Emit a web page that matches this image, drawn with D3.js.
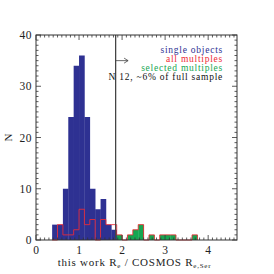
<!DOCTYPE html>
<html>
<head>
<meta charset="utf-8">
<script src="https://cdn.jsdelivr.net/npm/d3@7"></script>
<style>
  body { margin: 0; background: #fff; }
  svg text { font-family: "Liberation Serif", "DejaVu Serif", serif; }
</style>
</head>
<body>
<script>
// histogram data: lower bin edges and counts per bin
var binLo = [0.375, 0.5, 0.625, 0.75, 0.875, 1.0, 1.125, 1.25, 1.375, 1.5, 1.625, 1.75,
             1.875, 2.0, 2.125, 2.25, 2.375, 2.5, 2.625, 2.75, 2.875, 3.0, 3.125, 3.25, 3.375, 3.5, 3.625];
var binWidth = 0.125;
var singleCounts = [3, 3, 10, 24, 34, 36, 24, 10, 6, 8, 3, 2,
                    0, 0, 0, 0, 0, 0, 0, 0, 0, 0, 0, 0, 0, 0, 0];
var allMultCounts = [0, 3, 1, 1, 2, 6, 3, 4, 0, 4, 3, 3,
                     1, 0, 1, 2, 3, 0, 1, 0, 1, 1, 1, 0, 0, 0, 1];
var selMultCounts = [0, 0, 0, 0, 0, 0, 0, 0, 0, 0, 0, 0,
                     1, 0, 1, 2, 3, 0, 1, 0, 1, 1, 1, 0, 0, 0, 1];
var cutValue = 1.85;
var xTicks = [0, 1, 2, 3, 4];
var yTicks = [0, 10, 20, 30, 40];
var legendLabels = ["single objects", "all multiples", "selected multiples", "N 12, ~6% of full sample"];
var legendColors = ["#2e3192", "#ee2a35", "#16a651", "#111"];

(function(){
    var width = 274, height = 274;
    var left = 36, right = 237, top = 35, bottom = 240;

    var svg = d3.select("body").append("svg")
        .attr("width", width)
        .attr("height", height);

    var x = d3.scaleLinear().domain([0, 4.67]).range([left, right]);
    var y = d3.scaleLinear().domain([0, 40]).range([bottom, top]);

    var bins = binLo.map(function(lo, i){
        return {lo: lo, hi: lo + binWidth, single: singleCounts[i], all: allMultCounts[i], sel: selMultCounts[i]};
    });

    //blue filled bars
    svg.selectAll(".single").data(bins.filter(function(d){ return d.single > 0; }))
        .enter().append("rect")
        .attr("x", function(d){ return x(d.lo); })
        .attr("width", function(d){ return x(d.hi) - x(d.lo) + 0.3; })
        .attr("y", function(d){ return y(d.single); })
        .attr("height", function(d){ return y(0) - y(d.single); })
        .attr("fill", legendColors[0]);

    //green filled bars
    svg.selectAll(".sel").data(bins.filter(function(d){ return d.sel > 0; }))
        .enter().append("rect")
        .attr("x", function(d){ return x(d.lo); })
        .attr("width", function(d){ return x(d.hi) - x(d.lo) + 0.3; })
        .attr("y", function(d){ return y(d.sel); })
        .attr("height", function(d){ return y(0) - y(d.sel); })
        .attr("fill", legendColors[2]);

    //red step outline of all multiples
    var pts = [[bins[0].lo, 0]];
    bins.forEach(function(d){ pts.push([d.lo, d.all]); });
    pts.push([bins[bins.length - 1].hi, bins[bins.length - 1].all]);
    pts.push([bins[bins.length - 1].hi, 0]);
    var step = d3.line()
        .x(function(d){ return x(d[0]); })
        .y(function(d){ return y(d[1]); })
        .curve(d3.curveStepAfter);
    svg.append("path")
        .attr("d", step(pts))
        .attr("fill", "none")
        .attr("stroke", legendColors[1])
        .attr("stroke-opacity", 0.85)
        .attr("stroke-width", 1);

    //cut line
    svg.append("line")
        .attr("x1", x(cutValue)).attr("x2", x(cutValue))
        .attr("y1", top).attr("y2", bottom)
        .attr("stroke", "#444").attr("stroke-width", 1.3);

    //arrow
    var ay = y(35);
    svg.append("line")
        .attr("x1", x(cutValue)).attr("x2", x(2.14))
        .attr("y1", ay).attr("y2", ay)
        .attr("stroke", "#444").attr("stroke-width", 0.8);
    svg.append("path")
        .attr("d", "M" + (x(2.14) - 4) + "," + (ay - 2.5) + "L" + x(2.14) + "," + ay + "L" + (x(2.14) - 4) + "," + (ay + 2.5))
        .attr("fill", "none").attr("stroke", "#444").attr("stroke-width", 0.8);

    //frame
    svg.append("rect")
        .attr("x", left).attr("y", top)
        .attr("width", right - left).attr("height", bottom - top)
        .attr("fill", "none").attr("stroke", "#333").attr("stroke-width", 1);

    //ticks, major and minor, on all four sides
    var tickColor = "#333";
    d3.range(0, 47).forEach(function(i){
        var v = i / 10, px = x(v);
        if (px > right) return;
        var len = (i % 10 === 0) ? 5 : 2.5;
        svg.append("line").attr("x1", px).attr("x2", px).attr("y1", bottom).attr("y2", bottom - len)
            .attr("stroke", tickColor).attr("stroke-width", 0.8);
        svg.append("line").attr("x1", px).attr("x2", px).attr("y1", top).attr("y2", top + len)
            .attr("stroke", tickColor).attr("stroke-width", 0.8);
    });
    d3.range(0, 41).forEach(function(i){
        var py = y(i);
        var len = (i % 10 === 0) ? 5 : 2.5;
        svg.append("line").attr("x1", left).attr("x2", left + len).attr("y1", py).attr("y2", py)
            .attr("stroke", tickColor).attr("stroke-width", 0.8);
        svg.append("line").attr("x1", right).attr("x2", right - len).attr("y1", py).attr("y2", py)
            .attr("stroke", tickColor).attr("stroke-width", 0.8);
    });

    //tick labels
    svg.selectAll(".xl").data(xTicks).enter().append("text")
        .attr("x", function(d){ return x(d); })
        .attr("y", bottom + 14)
        .attr("text-anchor", "middle")
        .attr("font-size", 11.5)
        .attr("fill", "#222")
        .text(function(d){ return d; });
    svg.selectAll(".yl").data(yTicks).enter().append("text")
        .attr("x", left - 4)
        .attr("y", function(d){ return y(d) + 4; })
        .attr("text-anchor", "end")
        .attr("font-size", 11.5)
        .attr("letter-spacing", 0.5)
        .attr("fill", "#222")
        .text(function(d){ return d; });

    //axis titles
    var xt = svg.append("text")
        .attr("x", (left + right) / 2 - 2)
        .attr("y", 266)
        .attr("text-anchor", "middle")
        .attr("font-size", 11)
        .attr("letter-spacing", 0.75)
        .attr("fill", "#222");
    xt.append("tspan").text("this work R");
    xt.append("tspan").attr("font-size", 7).attr("dy", 2).text("e");
    xt.append("tspan").attr("dy", -2).text(" / COSMOS R");
    xt.append("tspan").attr("font-size", 7).attr("dy", 2).text("e,Ser");

    svg.append("text")
        .attr("transform", "translate(12," + ((top + bottom) / 2) + ") rotate(-90)")
        .attr("text-anchor", "middle")
        .attr("font-size", 11)
        .attr("fill", "#222")
        .text("N");

    //legend
    svg.selectAll(".leg").data(legendLabels).enter().append("text")
        .attr("x", 223)
        .attr("y", function(d, i){ return 53 + i * 9; })
        .attr("text-anchor", "end")
        .attr("font-size", 9.5)
        .attr("letter-spacing", 0.75)
        .attr("fill", function(d, i){ return legendColors[i]; })
        .text(function(d){ return d; });
})();
</script>
</body>
</html>
